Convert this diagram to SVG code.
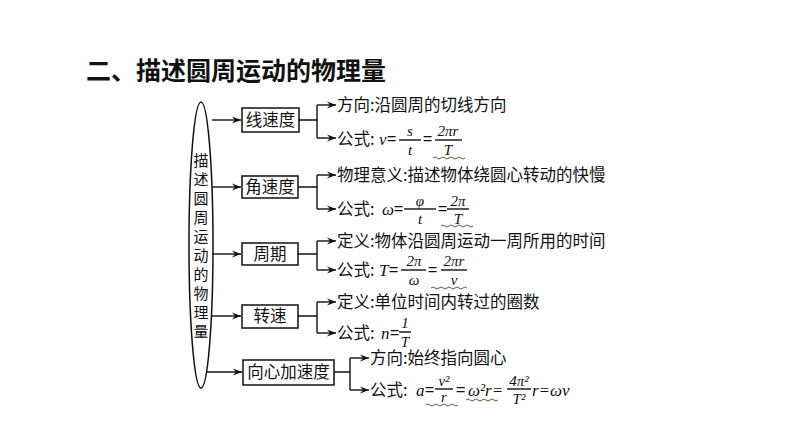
<svg xmlns="http://www.w3.org/2000/svg" width="794" height="446" viewBox="0 0 794 446">
<defs>
<marker id="ar" markerWidth="10" markerHeight="8" refX="9" refY="4" orient="auto" markerUnits="userSpaceOnUse"><path d="M0,0.5 L9,4 L0,7.5 L3,4 Z" fill="#111"/></marker>
</defs>
<style>
.t{font-family:"Noto Sans CJK SC","Liberation Serif",serif;font-size:16.5px;fill:#111}
.m{font-family:"Liberation Serif",serif;font-size:17px;font-style:italic;fill:#111}
.f{font-family:"Liberation Serif",serif;font-size:15px;font-style:italic;fill:#111;text-anchor:middle}
.b{fill:#fff;stroke:#111;stroke-width:1.5}
.l{stroke:#111;stroke-width:1.4;fill:none}
.w{stroke:#6b5a3a;stroke-width:1;fill:none}
</style>
<rect width="794" height="446" fill="#fff"/>
<text x="86" y="80" font-family="Noto Sans CJK SC,sans-serif" font-size="25" font-weight="bold" fill="#111">二、描述圆周运动的物理量</text>
<g id="root">
<ellipse cx="201" cy="245" rx="12" ry="143" class="b"/>
<text class="t" text-anchor="middle" style="font-size:15px">
<tspan x="201" y="166">描</tspan><tspan x="201" y="185">述</tspan><tspan x="201" y="204">圆</tspan><tspan x="201" y="223">周</tspan><tspan x="201" y="242">运</tspan><tspan x="201" y="261">动</tspan><tspan x="201" y="280">的</tspan><tspan x="201" y="299">物</tspan><tspan x="201" y="318">理</tspan><tspan x="201" y="337">量</tspan></text>
</g>
<g id="connectors">
<path class="l" marker-end="url(#ar)" d="M212,120 H241"/>
<path class="l" marker-end="url(#ar)" d="M212,187 H241"/>
<path class="l" marker-end="url(#ar)" d="M212,254 H241"/>
<path class="l" marker-end="url(#ar)" d="M212,316 H241"/>
<path class="l" marker-end="url(#ar)" d="M207,372 H242"/>
<path class="l" d="M299,120 H317 M317,105 V138 M298,187 H317 M317,175 V209 M298,254 H317 M317,241 V270 M298,316 H317 M317,302 V333 M334,372 H350 M350,358 V390"/>
<path class="l" marker-end="url(#ar)" d="M317,105 H336"/>
<path class="l" marker-end="url(#ar)" d="M317,138 H336"/>
<path class="l" marker-end="url(#ar)" d="M317,175 H336"/>
<path class="l" marker-end="url(#ar)" d="M317,209 H336"/>
<path class="l" marker-end="url(#ar)" d="M317,241 H336"/>
<path class="l" marker-end="url(#ar)" d="M317,270 H336"/>
<path class="l" marker-end="url(#ar)" d="M317,302 H336"/>
<path class="l" marker-end="url(#ar)" d="M317,333 H336"/>
<path class="l" marker-end="url(#ar)" d="M350,358 H369"/>
<path class="l" marker-end="url(#ar)" d="M350,390 H369"/>
</g>
<g id="n1"><rect x="242" y="108" width="57" height="24" class="b"/><text class="t" x="270.5" y="126" text-anchor="middle">线速度</text>
<text class="t" x="337" y="111">方向:沿圆周的切线方向</text>
<text class="t" x="337" y="145">公式:</text><text class="m" x="379" y="145">v</text><text class="t" x="387" y="145">=</text>
<text class="f" x="410" y="136">s</text><path class="l" d="M399,140 H421"/><text class="f" x="410" y="155">t</text>
<text class="t" x="423" y="145">=</text>
<text class="f" x="448" y="136">2πr</text><path class="l" d="M435,140 H462"/><text class="f" x="448" y="155">T</text>
<path class="w" d="M433,158 q2,-2 4,0 t4,0 t4,0 t4,0 t4,0 t4,0 t4,0 t4,0"/></g>
<g id="n2"><rect x="242" y="176" width="56" height="22" class="b"/><text class="t" x="270" y="193" text-anchor="middle">角速度</text>
<text class="t" x="337" y="181">物理意义:描述物体绕圆心转动的快慢</text>
<text class="t" x="337" y="215">公式:</text><text class="m" x="382" y="215">ω</text><text class="t" x="394" y="215">=</text>
<text class="f" x="420" y="206">φ</text><path class="l" d="M404,209 H436"/><text class="f" x="420" y="224">t</text>
<text class="t" x="438" y="215">=</text>
<text class="f" x="458" y="206">2π</text><path class="l" d="M447,209 H469"/><text class="f" x="458" y="224">T</text>
<path class="w" d="M441,226 q2,-2 4,0 t4,0 t4,0 t4,0 t4,0 t4,0 t4,0 t4,0"/></g>
<g id="n3"><rect x="242" y="243" width="56" height="22" class="b"/><text class="t" x="270" y="260" text-anchor="middle">周期</text>
<text class="t" x="337" y="247">定义:物体沿圆周运动一周所用的时间</text>
<text class="t" x="337" y="276">公式:</text><text class="m" x="379" y="276">T</text><text class="t" x="389" y="276">=</text>
<text class="f" x="414" y="266">2π</text><path class="l" d="M401,270 H426"/><text class="f" x="414" y="285">ω</text>
<text class="t" x="428" y="276">=</text>
<text class="f" x="454" y="266">2πr</text><path class="l" d="M441,270 H467"/><text class="f" x="454" y="285">v</text>
<path class="w" d="M431,288 q2,-2 4,0 t4,0 t4,0 t4,0 t4,0 t4,0 t4,0 t4,0 t4,0"/></g>
<g id="n4"><rect x="242" y="305" width="56" height="23" class="b"/><text class="t" x="270" y="322" text-anchor="middle">转速</text>
<text class="t" x="337" y="308">定义:单位时间内转过的圈数</text>
<text class="t" x="337" y="339">公式:</text><text class="m" x="381" y="339">n</text><text class="t" x="390" y="339">=</text>
<text class="f" x="405" y="328">1</text><path class="l" d="M399,332 H411"/><text class="f" x="405" y="347">T</text></g>
<g id="n5"><rect x="243" y="360" width="91" height="25" class="b"/><text class="t" x="288.5" y="378" text-anchor="middle">向心加速度</text>
<text class="t" x="370" y="364">方向:始终指向圆心</text>
<text class="t" x="370" y="396">公式:</text><text class="m" x="416" y="396">a</text><text class="t" x="425" y="396">=</text>
<text class="f" x="444" y="386">v²</text><path class="l" d="M435,389 H453"/><text class="f" x="444" y="402">r</text>
<text class="t" x="456" y="396">=</text><text class="m" x="468" y="396">ω²r=</text>
<text class="f" x="519" y="386">4π²</text><path class="l" d="M507,389 H531"/><text class="f" x="519" y="404">T²</text>
<text class="m" x="532" y="396">r=ωv</text>
<path class="w" d="M426,405 q2,-2 4,0 t4,0 t4,0 t4,0 t4,0 t4,0 t4,0 t4,0"/>
<path class="w" d="M466,400 q2,-2 4,0 t4,0 t4,0 t4,0 t4,0 t4,0 t4,0 t4,0"/></g>
</svg>
